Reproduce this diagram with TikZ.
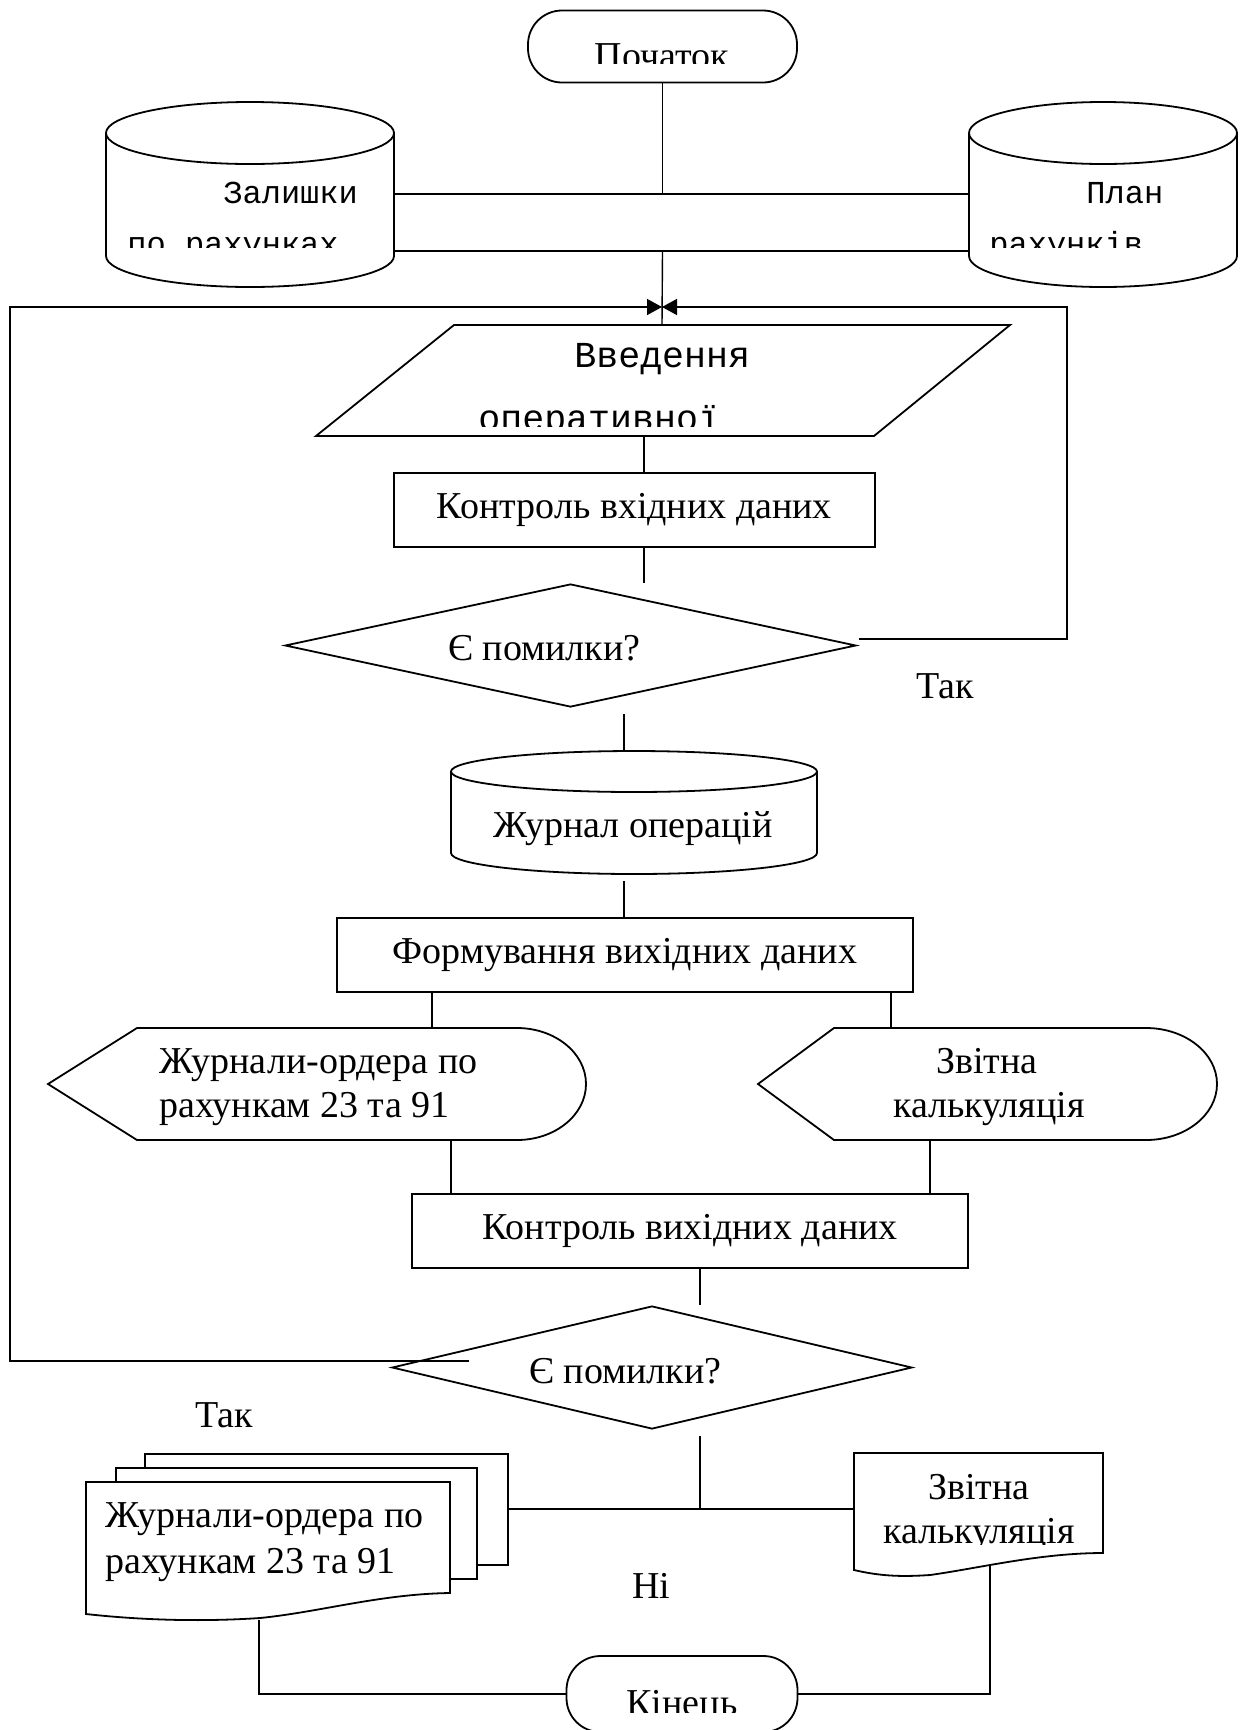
\documentclass[tikz,border=0pt]{standalone}
\usepackage{fontspec}
\setmainfont{Liberation Serif}
\newfontfamily\monofam{Liberation Mono}
\usetikzlibrary{shapes.geometric,arrows.meta}
\tikzset{
 shp/.style={draw, line width=0.9pt},
 conn/.style={draw, line width=0.7pt},
 fb/.style={conn, -{Triangle[length=7.5pt,width=8pt]}},
 term/.style={shp, rectangle, rounded corners=17pt, inner sep=0},
 procbox/.style={shp, rectangle, inner sep=0, font=\fontsize{19}{23}\selectfont},
 dec/.style={shp, diamond, inner sep=0},
 ttxt/.style={inner sep=0, font=\fontsize{19}{23}\selectfont},
 mtxtA/.style={inner sep=0, font=\monofam\fontsize{16}{20}\selectfont},
 mtxtB/.style={inner sep=0, font=\monofam\fontsize{18.3}{22}\selectfont},
}
\begin{document}
\begin{tikzpicture}[x=0.5pt,y=-0.5pt]
\useasboundingbox (0,0) rectangle (1249,1730);
\begin{scope}
\clip (0,0) rectangle (1249,1730);

% start terminator
\node[term, minimum width=134.5pt, minimum height=36pt] (start) at (662.5,46.5) {};
\begin{scope}
 \clip (529,11) rectangle (796,63);
 \node[ttxt, anchor=base] (tstart) at (662,68) {Початок};
\end{scope}

% left cylinder
\draw[shp] (250,133) ellipse [x radius=144, y radius=31];
\draw[shp] (106,133) -- (106,256) arc[start angle=180, end angle=0, x radius=144, y radius=31] -- (394,133);
\node[mtxtA, anchor=base west] (tzal1) at (223,203) {Залишки};
\begin{scope}
 \clip (100,200) rectangle (400,247);
 \node[mtxtA, anchor=base west] (tzal2) at (127,254) {по рахунках};
\end{scope}
\coordinate (zlA) at (394,194);
\coordinate (zlB) at (394,251);

% right cylinder
\draw[shp] (1103,133) ellipse [x radius=134, y radius=31];
\draw[shp] (969,133) -- (969,256) arc[start angle=180, end angle=0, x radius=134, y radius=31] -- (1237,133);
\node[mtxtA, anchor=base west] (tpl1) at (1086,203) {План};
\begin{scope}
 \clip (960,200) rectangle (1245,247);
 \node[mtxtA, anchor=base west] (tpl2) at (989,254) {рахунків};
\end{scope}
\coordinate (plA) at (969,194);
\coordinate (plB) at (969,251);

\draw[conn] (start.south) -- (start.south |- zlA);
\draw[shp] (zlA) -- (plA);
\draw[shp] (zlB) -- (plB);

% parallelogram
\draw[shp] (454,325) -- (1010,325) -- (874,436) -- (316,436) -- cycle;
\coordinate (parT) at (662,325);
\coordinate (parB) at (644,436);
\node[mtxtB, anchor=base west] (tved1) at (574,367) {Введення};
\begin{scope}
 \clip (300,380) rectangle (1000,426);
 \node[mtxtB, anchor=base west] (tved2) at (478,430) {оперативної};
\end{scope}
\draw[conn] (start.south |- zlB) -- (parT);

% box 1
\node[procbox, minimum width=240.5pt, minimum height=37pt] (b1) at (634.5,510) {Контроль вхідних даних};
\draw[conn] (parB) -- (parB |- b1.north);
\coordinate (b1e) at (644,583);
\draw[conn] (parB |- b1.south) -- (b1e);

% decision 1
\node[dec, minimum width=285.5pt, minimum height=61.5pt, aspect=4.6] (d1) at (570.5,645.5) {};
\node[ttxt, anchor=base west] (td1) at (448,660) {Є помилки?};
\node[ttxt, anchor=base west] (tyes1) at (916,698) {Так};
\coordinate (d1out) at (859,639);
\coordinate (join) at (662,307);
\coordinate (fbR) at (1067,307);
\coordinate (fbL) at (10,307);
\draw[fb] (d1out) -| (fbR) -- (join);

% journal cylinder
\draw[shp] (634,771.5) ellipse [x radius=183, y radius=20.5];
\draw[shp] (451,771.5) -- (451,853) arc[start angle=180, end angle=0, x radius=183, y radius=21] -- (817,771.5);
\node[ttxt, anchor=base] (tjour) at (633,837) {Журнал операцій};
\coordinate (jA) at (624,714);
\coordinate (jB) at (624,751);
\draw[conn] (jA) -- (jB);
\coordinate (jC) at (624,881);

% box 2
\node[procbox, minimum width=288pt, minimum height=37pt] (b2) at (625,955) {Формування вихідних даних};
\draw[conn] (jC) -- (jC |- b2.north);

% displays
\draw[shp] (48,1084) -- (137,1028) -- (517,1028) arc[start angle=-90, end angle=90, x radius=69, y radius=56] -- (137,1140) -- cycle;
\node[ttxt, anchor=base west] (tdl1) at (159,1073) {Журнали-ордера по};
\node[ttxt, anchor=base west] (tdl2) at (159,1117) {рахункам 23 та 91};
\coordinate (dlT) at (432,1028);
\coordinate (dlB) at (451,1140);
\draw[conn] (dlT |- b2.south) -- (dlT);

\draw[shp] (758,1084) -- (834,1028) -- (1146,1028) arc[start angle=-90, end angle=90, x radius=71, y radius=56] -- (834,1140) -- cycle;
\node[ttxt, anchor=base] (tdr1) at (987,1073) {Звітна};
\node[ttxt, anchor=base] (tdr2) at (989,1117) {калькуляція};
\coordinate (drT) at (891,1028);
\coordinate (drB) at (930,1140);
\draw[conn] (drT |- b2.south) -- (drT);

% box 3
\node[procbox, minimum width=278pt, minimum height=37pt] (b3) at (690,1231) {Контроль вихідних даних};
\draw[conn] (dlB) -- (dlB |- b3.north);
\draw[conn] (drB) -- (drB |- b3.north);
\coordinate (b3e) at (700,1305);
\draw[conn] (b3e |- b3.south) -- (b3e);

% decision 2
\node[dec, minimum width=260pt, minimum height=61.5pt, aspect=4.2] (d2) at (652,1367.5) {};
\node[ttxt, anchor=base west] (td2) at (529,1383) {Є помилки?};
\node[ttxt, anchor=base west] (tyes2) at (195,1427) {Так};
\coordinate (d2out) at (469,1361);
\draw[fb] (d2out) -| (fbL) -- (join);

\coordinate (d2s) at (700,1436);
\coordinate (hub) at (700,1509);
\draw[conn] (d2s) -- (hub);

% multi document
\draw[shp, fill=white] (145,1454) rectangle (508,1565);
\draw[shp, fill=white] (116,1468) rectangle (477,1579);
\draw[shp, fill=white] (86,1614) -- (86,1482) -- (450,1482) -- (450,1593)
  .. controls (380,1594) and (320,1612) .. (260,1618)
  .. controls (200,1622) and (140,1620) .. (86,1614) -- cycle;
\node[ttxt, anchor=base west] (tmd1) at (105,1527) {Журнали-ордера по};
\node[ttxt, anchor=base west] (tmd2) at (105,1573) {рахункам 23 та 91};
\coordinate (mdR) at (508,1509);
\coordinate (mdB) at (259,1620);

% single document
\draw[shp, fill=white] (854,1570) -- (854,1453) -- (1103,1453) -- (1103,1553)
  .. controls (1040,1553) and (980,1568) .. (930,1575)
  .. controls (900,1577) and (880,1576) .. (854,1570) -- cycle;
\node[ttxt, anchor=base] (tsd1) at (979,1499) {Звітна};
\begin{scope}
 \clip (855,1505) rectangle (1100,1544);
 \node[ttxt, anchor=base] (tsd2) at (979,1543) {калькуляція};
\end{scope}
\coordinate (rdL) at (854,1509);
\coordinate (rdB) at (990,1566);
\draw[conn] (mdR) -- (rdL);

\node[ttxt, anchor=base west] (tno) at (632,1598) {Ні};

% end terminator
\node[term, minimum width=115.5pt, minimum height=38pt] (end) at (682,1694) {};
\begin{scope}
 \clip (560,1650) rectangle (800,1712);
 \node[ttxt, anchor=base] (tend) at (682,1715) {Кінець};
\end{scope}
\draw[conn] (mdB) |- (end.west);
\draw[conn] (rdB) |- (end.east);
\end{scope}
\end{tikzpicture}
\end{document}
